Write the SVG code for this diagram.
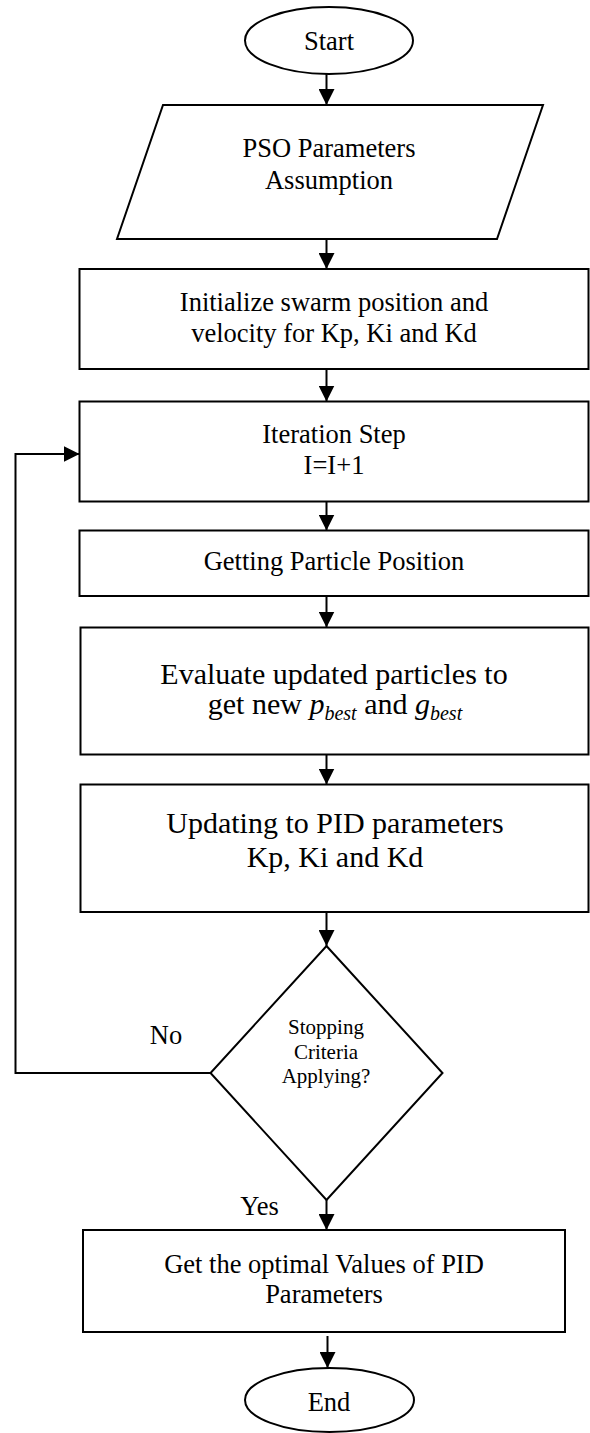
<svg xmlns="http://www.w3.org/2000/svg" width="590" height="1433" viewBox="0 0 590 1433">
<style>
.s{fill:#fff;stroke:#000;stroke-width:2}
.c{fill:none;stroke:#000;stroke-width:2}
text{font-family:"Liberation Serif","Times New Roman",serif;fill:#000;text-anchor:middle}
.n{font-size:26.5px}
.b{font-size:30px}
.d{font-size:21px}
.i{font-style:italic}
.sub{font-style:italic;font-size:20px}
</style>
<defs>
<marker id="ah" markerUnits="userSpaceOnUse" markerWidth="16" markerHeight="16" refX="16" refY="8" orient="auto">
<path d="M0,0 L16,8 L0,16 z" fill="#000"/>
</marker>
</defs>
<rect width="590" height="1433" fill="#fff"/>
<g id="connectors">
<line class="c" x1="326.5" y1="74" x2="326.5" y2="105" marker-end="url(#ah)"/>
<line class="c" x1="326.5" y1="239" x2="326.5" y2="269" marker-end="url(#ah)"/>
<line class="c" x1="326.5" y1="369" x2="326.5" y2="401.5" marker-end="url(#ah)"/>
<line class="c" x1="326.5" y1="501.5" x2="326.5" y2="530.5" marker-end="url(#ah)"/>
<line class="c" x1="326.5" y1="596" x2="326.5" y2="627.5" marker-end="url(#ah)"/>
<line class="c" x1="326.5" y1="754.5" x2="326.5" y2="784.5" marker-end="url(#ah)"/>
<line class="c" x1="326.5" y1="912" x2="326.5" y2="946" marker-end="url(#ah)"/>
<line class="c" x1="326.5" y1="1200" x2="326.5" y2="1230" marker-end="url(#ah)"/>
<line class="c" x1="327.5" y1="1336" x2="327.5" y2="1368" marker-end="url(#ah)"/>
<path class="c" d="M210.5,1073 H15.5 V454 H79.5" marker-end="url(#ah)"/>
<text class="n" x="166" y="1044">No</text>
<text class="n" x="259.5" y="1215">Yes</text>
</g>
<g id="start">
<ellipse class="s" cx="329" cy="40.5" rx="84" ry="33.5"/>
<text class="n" x="329" y="50">Start</text>
</g>
<g id="pso">
<polygon class="s" points="163,105 543,105 497,239 117,239"/>
<text class="n" x="329" y="157">PSO Parameters</text>
<text class="n" x="329" y="189">Assumption</text>
</g>
<g id="init">
<rect class="s" x="79.5" y="269" width="509" height="100"/>
<text class="n" x="334" y="311">Initialize swarm position and</text>
<text class="n" x="334" y="342">velocity for Kp, Ki and Kd</text>
</g>
<g id="iter">
<rect class="s" x="79.5" y="401.5" width="509" height="100"/>
<text class="n" x="334" y="443">Iteration Step</text>
<text class="n" x="334" y="474">I=I+1</text>
</g>
<g id="getpos">
<rect class="s" x="79.5" y="530.5" width="509" height="65.5"/>
<text class="n" x="334" y="570">Getting Particle Position</text>
</g>
<g id="evaluate">
<rect class="s" x="80.5" y="627.5" width="508" height="127"/>
<text class="b" x="334" y="684">Evaluate updated particles to</text>
<text class="b" x="335" y="714">get new <tspan class="i">p</tspan><tspan class="sub" dy="6">best</tspan><tspan dy="-6"> and </tspan><tspan class="i">g</tspan><tspan class="sub" dy="6">best</tspan></text>
</g>
<g id="update">
<rect class="s" x="80.5" y="784.5" width="508" height="127.5"/>
<text class="b" x="335" y="833">Updating to PID parameters</text>
<text class="b" x="335" y="867">Kp, Ki and Kd</text>
</g>
<g id="decision">
<polygon class="s" points="326.5,946 442.5,1073 326.5,1200 210.5,1073"/>
<text class="d" x="326" y="1034">Stopping</text>
<text class="d" x="326" y="1059">Criteria</text>
<text class="d" x="326" y="1083">Applying?</text>
</g>
<g id="optimal">
<rect class="s" x="83" y="1230" width="482" height="102"/>
<text class="n" x="324" y="1273">Get the optimal Values of PID</text>
<text class="n" x="324" y="1303">Parameters</text>
</g>
<g id="end">
<ellipse class="s" cx="329.5" cy="1400" rx="84.5" ry="32"/>
<text class="n" x="329" y="1411">End</text>
</g>
</svg>
